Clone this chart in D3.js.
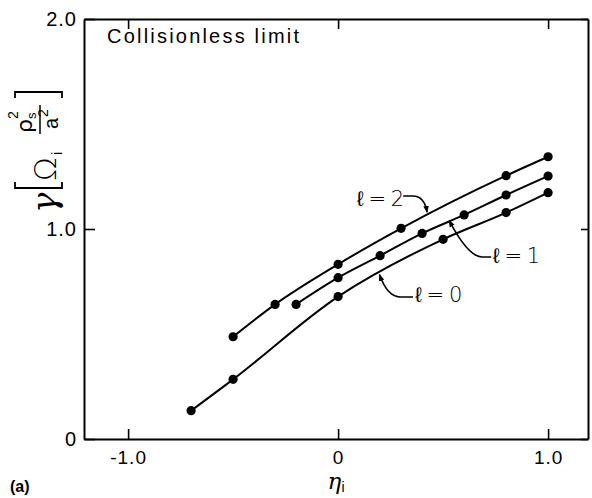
<!DOCTYPE html>
<html>
<head>
<meta charset="utf-8">
<script src="https://cdn.jsdelivr.net/npm/d3@7"></script>
<style>
  html, body { margin: 0; padding: 0; background: #fff; }
  svg { display: block; }
</style>
</head>
<body>
<div id="chart"></div>
<script>
// ---- data ----
const l0Eta   = [-0.7, -0.5, 0.0, 0.5, 0.8, 1.0];
const l0Gamma = [0.135, 0.284, 0.678, 0.951, 1.078, 1.173];
const l1Eta   = [-0.2, 0.0, 0.2, 0.4, 0.6, 0.8, 1.0];
const l1Gamma = [0.641, 0.768, 0.873, 0.979, 1.067, 1.162, 1.252];
const l2Eta   = [-0.5, -0.3, 0.0, 0.3, 0.8, 1.0];
const l2Gamma = [0.487, 0.641, 0.832, 1.003, 1.254, 1.344];

const xTickValues = [-1, 0, 1];
const xTickLabels = ["-1.0", "0", "1.0"];
const yTickValues = [0, 1, 2];
const yTickLabels = ["0", "1.0", "2.0"];

const title = "Collisionless limit";
const seriesLabels = ["ℓ = 0", "ℓ = 1", "ℓ = 2"];

// label anchors in data units
const labelEta   = [0.367, 0.738, 0.09];
const labelGamma = [0.652, 0.838, 1.11];

// ---- layout ----
const W = 592, H = 498;
const x = d3.scaleLinear().domain([-1.21, 1.19]).range([84, 588]);
const y = d3.scaleLinear().domain([0, 2]).range([439, 19]);

const svg = d3.select("#chart").append("svg")
  .attr("width", W).attr("height", H)
  .style("font-family", "'Liberation Sans', Arial, sans-serif");

const series = [
  {eta: l0Eta, gamma: l0Gamma},
  {eta: l1Eta, gamma: l1Gamma},
  {eta: l2Eta, gamma: l2Gamma}
].map(s => s.eta.map((e, i) => ({e, g: s.gamma[i]})));

// ---- axes (frame) ----
function styleAxis(g) {
  g.selectAll(".domain").attr("stroke", "#000").attr("stroke-width", 2);
  g.selectAll(".tick line").attr("stroke", "#000").attr("stroke-width", 1.6);
  g.selectAll(".tick text").attr("fill", "#000")
    .style("font-size", "19px").style("letter-spacing", "1px")
    .style("font-family", "'Liberation Sans', Arial, sans-serif");
}
svg.append("g").attr("transform", `translate(0,${y(0)})`)
  .call(d3.axisBottom(x).tickValues(xTickValues).tickSizeInner(-10).tickSizeOuter(0)
    .tickPadding(12).tickFormat((d, i) => xTickLabels[i]))
  .call(styleAxis);
svg.append("g").attr("transform", `translate(0,${y(2)})`)
  .call(d3.axisTop(x).tickValues(xTickValues).tickSizeInner(-10).tickSizeOuter(0)
    .tickFormat(() => ""))
  .call(styleAxis);
svg.append("g").attr("transform", `translate(${x.range()[0]},0)`)
  .call(d3.axisLeft(y).tickValues(yTickValues).tickSizeInner(-11).tickSizeOuter(0)
    .tickPadding(7).tickFormat((d, i) => yTickLabels[i]))
  .call(styleAxis)
  .call(g => g.selectAll(".tick text").style("font-size", "20px"));
svg.append("g").attr("transform", `translate(${x.range()[1]},0)`)
  .call(d3.axisRight(y).tickValues(yTickValues).tickSizeInner(-7).tickSizeOuter(0)
    .tickFormat(() => ""))
  .call(styleAxis);

// ---- curves and points ----
const line = d3.line().x(d => x(d.e)).y(d => y(d.g)).curve(d3.curveMonotoneX);
series.forEach(s => {
  svg.append("path").datum(s).attr("d", line)
    .attr("fill", "none").attr("stroke", "#000").attr("stroke-width", 2);
  svg.selectAll(null).data(s).enter().append("circle")
    .attr("cx", d => x(d.e)).attr("cy", d => y(d.g)).attr("r", 4.6).attr("fill", "#000");
});

// ---- arrow marker ----
svg.append("defs").append("marker")
  .attr("id", "arr").attr("viewBox", "0 0 10 10").attr("refX", 9).attr("refY", 5)
  .attr("markerWidth", 7).attr("markerHeight", 7).attr("orient", "auto")
  .attr("markerUnits", "userSpaceOnUse")
  .append("path").attr("d", "M0,1 L10,5 L0,9 Z").attr("fill", "#000");

// ---- series labels with leaders ----
const lblFont = "'DejaVu Sans', sans-serif";
seriesLabels.forEach((t, i) => {
  svg.append("text").attr("x", x(labelEta[i])).attr("y", y(labelGamma[i]))
    .attr("font-size", 21).attr("font-family", lblFont).attr("font-weight", 300)
    .style("letter-spacing", "-1px")
    .text(t);
});
// leaders (data units): start, corner, control, tip
const leaders = [
  [[0.357, 0.676], [0.297, 0.676], [0.235, 0.676], [0.197, 0.783]],
  [[0.729, 0.867], [0.686, 0.867], [0.62, 0.867], [0.529, 1.040]],
  [[0.31, 1.157], [0.352, 1.157], [0.41, 1.160], [0.424, 1.080]]
];
leaders.forEach(p => {
  const path = d3.path();
  path.moveTo(x(p[0][0]), y(p[0][1]));
  path.lineTo(x(p[1][0]), y(p[1][1]));
  path.quadraticCurveTo(x(p[2][0]), y(p[2][1]), x(p[3][0]), y(p[3][1]));
  svg.append("path").attr("d", path.toString()).attr("fill", "none")
    .attr("stroke", "#000").attr("stroke-width", 1.6).attr("marker-end", "url(#arr)");
});

// ---- title ----
svg.append("text").attr("x", x(-1.1)).attr("y", y(1.885))
  .attr("font-size", 20).style("letter-spacing", "2.2px").attr("fill", "#000")
  .text(title);

// ---- x label ----
const xl = svg.append("text").attr("x", x(-0.05)).attr("y", y(-0.24))
  .attr("font-family", "'DejaVu Serif', serif").attr("font-style", "italic").attr("font-size", 23);
xl.append("tspan").text("η");
xl.append("tspan").attr("dy", 3).attr("font-size", 14).attr("font-style", "normal")
  .attr("font-family", "'Liberation Sans', sans-serif").text("i");

// ---- y label (rotated) ----
const yl = svg.append("g").attr("transform", "translate(56,213) rotate(-90)");
yl.append("text").attr("x", 0).attr("y", 0).attr("font-size", 34)
  .attr("font-family", "'DejaVu Serif', serif").attr("font-style", "italic").text("γ");
yl.append("path").attr("d", "M31,-41 H25 V6 H31").attr("fill", "none")
  .attr("stroke", "#000").attr("stroke-width", 1.8);
yl.append("text").attr("x", 32).attr("y", 0).attr("font-size", 31)
  .attr("font-family", "'DejaVu Sans', sans-serif").attr("font-weight", 300).text("Ω");
yl.append("text").attr("x", 58).attr("y", 6).attr("font-size", 15).text("i");
yl.append("text").attr("x", 80).attr("y", -24).attr("font-size", 22)
  .attr("font-family", "'DejaVu Sans', sans-serif").text("ρ");
yl.append("text").attr("x", 94).attr("y", -20).attr("font-size", 13).text("s");
yl.append("text").attr("x", 94).attr("y", -38).attr("font-size", 14).text("2");
yl.append("line").attr("x1", 79).attr("x2", 108).attr("y1", -16).attr("y2", -16)
  .attr("stroke", "#000").attr("stroke-width", 1.5);
yl.append("text").attr("x", 84).attr("y", 2).attr("font-size", 20).text("a");
yl.append("text").attr("x", 96).attr("y", -8).attr("font-size", 14).text("2");
yl.append("path").attr("d", "M115,-41 H121 V6 H115").attr("fill", "none")
  .attr("stroke", "#000").attr("stroke-width", 1.8);

// ---- panel tag ----
svg.append("text").attr("x", 10).attr("y", 492).attr("font-size", 16)
  .attr("font-weight", "bold").text("(a)");
</script>
</body>
</html>
